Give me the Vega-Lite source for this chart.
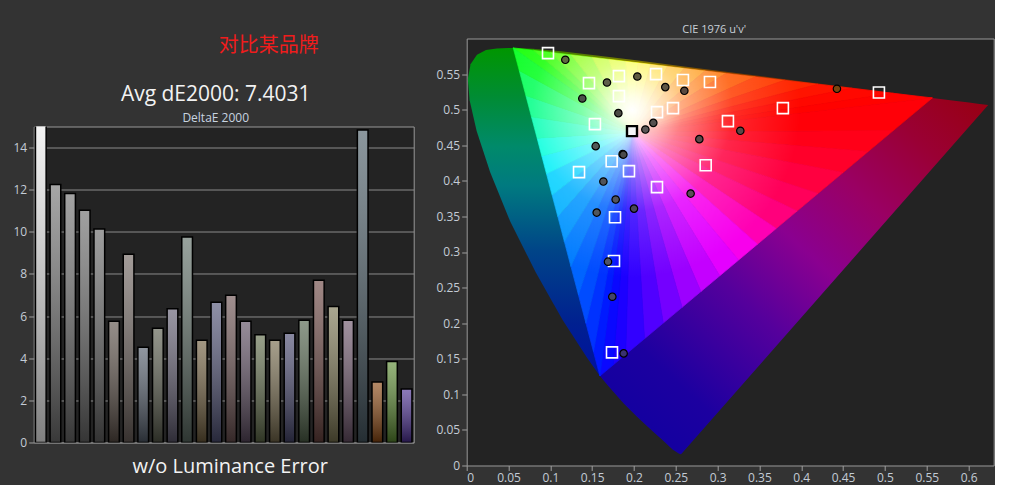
{
  "$schema": "https://vega.github.io/schema/vega-lite/v6.json",
  "background": "#333333",
  "padding": {"left": 11.7, "top": 22.5, "right": 0, "bottom": 0},
  "spacing": 20,
  "config": {
    "view": {"fill": "#232323", "stroke": "#9a9a9a", "strokeWidth": 1},
    "font": "Open Sans",
    "axis": {"labelColor": "#c4ccd6", "labelFont": "Open Sans", "labelFontSize": 12, "tickColor": "#a0a0a0", "domain": false, "tickSize": 5, "labelPadding": 2},
    "title": {"fontWeight": "normal"}
  },
  "datasets": {
    "bars": [
      {"p": 1, "de": 17.28}, {"p": 2, "de": 12.25}, {"p": 3, "de": 11.82}, {"p": 4, "de": 11.03},
      {"p": 5, "de": 10.13}, {"p": 6, "de": 5.75}, {"p": 7, "de": 8.94}, {"p": 8, "de": 4.52},
      {"p": 9, "de": 5.42}, {"p": 10, "de": 6.35}, {"p": 11, "de": 9.75}, {"p": 12, "de": 4.85},
      {"p": 13, "de": 6.66}, {"p": 14, "de": 6.99}, {"p": 15, "de": 5.75}, {"p": 16, "de": 5.12},
      {"p": 17, "de": 4.85}, {"p": 18, "de": 5.18}, {"p": 19, "de": 5.8}, {"p": 20, "de": 7.7},
      {"p": 21, "de": 6.45}, {"p": 22, "de": 5.8}, {"p": 23, "de": 14.83}, {"p": 24, "de": 2.87},
      {"p": 25, "de": 3.85}, {"p": 26, "de": 2.54}
    ],
    "locusLeft": [
      {"o": 0, "u": 0.0556, "v": 0.5868}, {"o": 1, "u": 0.0501, "v": 0.5868}, {"o": 2, "u": 0.036, "v": 0.5861},
      {"o": 3, "u": 0.0231, "v": 0.5837}, {"o": 4, "u": 0.0123, "v": 0.577}, {"o": 5, "u": 0.0046, "v": 0.5638},
      {"o": 6, "u": 0.0014, "v": 0.5432}, {"o": 7, "u": 0.0035, "v": 0.5131}, {"o": 8, "u": 0.0119, "v": 0.4699},
      {"o": 9, "u": 0.0282, "v": 0.4117}, {"o": 10, "u": 0.0521, "v": 0.3427}, {"o": 11, "u": 0.0828, "v": 0.2708},
      {"o": 12, "u": 0.1147, "v": 0.2044}, {"o": 13, "u": 0.1441, "v": 0.151}, {"o": 14, "u": 0.1593, "v": 0.1258}
    ],
    "locusBottom": [
      {"o": 0, "u": 0.1593, "v": 0.1258}, {"o": 1, "u": 0.169, "v": 0.1119}, {"o": 2, "u": 0.1877, "v": 0.0871},
      {"o": 3, "u": 0.2033, "v": 0.0688}, {"o": 4, "u": 0.2161, "v": 0.0549}, {"o": 5, "u": 0.2266, "v": 0.0437},
      {"o": 6, "u": 0.2347, "v": 0.035}, {"o": 7, "u": 0.2461, "v": 0.0226}, {"o": 8, "u": 0.2535, "v": 0.017},
      {"o": 9, "u": 0.2557, "v": 0.0159}, {"o": 10, "u": 0.2568, "v": 0.0166}, {"o": 11, "u": 0.6234, "v": 0.5065},
      {"o": 12, "u": 0.6109, "v": 0.5084}, {"o": 13, "u": 0.6005, "v": 0.5099}, {"o": 14, "u": 0.583, "v": 0.5125},
      {"o": 15, "u": 0.5566, "v": 0.5165}
    ],
    "topSliver": [
      {"o": 0, "u": 0.0556, "v": 0.5868}, {"o": 1, "u": 0.0792, "v": 0.5856}, {"o": 2, "u": 0.1127, "v": 0.5821},
      {"o": 3, "u": 0.1531, "v": 0.5766}, {"o": 4, "u": 0.2026, "v": 0.5694}, {"o": 5, "u": 0.2623, "v": 0.5604},
      {"o": 6, "u": 0.3315, "v": 0.5501}, {"o": 7, "u": 0.4035, "v": 0.5393}, {"o": 8, "u": 0.4692, "v": 0.5296},
      {"o": 9, "u": 0.5203, "v": 0.5219}, {"o": 10, "u": 0.5566, "v": 0.5165}
    ],
    "gamut": [
      {"o": 0, "u": 0.0556, "v": 0.5868}, {"o": 1, "u": 0.5566, "v": 0.5165}, {"o": 2, "u": 0.1593, "v": 0.1258}
    ],
    "fan": [
      {"t":0,"o":0,"u":0.1978,"v":0.4683},{"t":0,"o":1,"u":0.0556,"v":0.5868},{"t":0,"o":2,"u":0.08,"v":0.5834},
      {"t":1,"o":0,"u":0.1978,"v":0.4683},{"t":1,"o":1,"u":0.08,"v":0.5834},{"t":1,"o":2,"u":0.1,"v":0.5806},
      {"t":2,"o":0,"u":0.1978,"v":0.4683},{"t":2,"o":1,"u":0.1,"v":0.5806},{"t":2,"o":2,"u":0.125,"v":0.5771},
      {"t":3,"o":0,"u":0.1978,"v":0.4683},{"t":3,"o":1,"u":0.125,"v":0.5771},{"t":3,"o":2,"u":0.15,"v":0.5736},
      {"t":4,"o":0,"u":0.1978,"v":0.4683},{"t":4,"o":1,"u":0.15,"v":0.5736},{"t":4,"o":2,"u":0.17,"v":0.5708},
      {"t":5,"o":0,"u":0.1978,"v":0.4683},{"t":5,"o":1,"u":0.17,"v":0.5708},{"t":5,"o":2,"u":0.19,"v":0.5679},
      {"t":6,"o":0,"u":0.1978,"v":0.4683},{"t":6,"o":1,"u":0.19,"v":0.5679},{"t":6,"o":2,"u":0.205,"v":0.5658},
      {"t":7,"o":0,"u":0.1978,"v":0.4683},{"t":7,"o":1,"u":0.205,"v":0.5658},{"t":7,"o":2,"u":0.22,"v":0.5637},
      {"t":8,"o":0,"u":0.1978,"v":0.4683},{"t":8,"o":1,"u":0.22,"v":0.5637},{"t":8,"o":2,"u":0.24,"v":0.5609},
      {"t":9,"o":0,"u":0.1978,"v":0.4683},{"t":9,"o":1,"u":0.24,"v":0.5609},{"t":9,"o":2,"u":0.26,"v":0.5581},
      {"t":10,"o":0,"u":0.1978,"v":0.4683},{"t":10,"o":1,"u":0.26,"v":0.5581},{"t":10,"o":2,"u":0.285,"v":0.5546},
      {"t":11,"o":0,"u":0.1978,"v":0.4683},{"t":11,"o":1,"u":0.285,"v":0.5546},{"t":11,"o":2,"u":0.31,"v":0.5511},
      {"t":12,"o":0,"u":0.1978,"v":0.4683},{"t":12,"o":1,"u":0.31,"v":0.5511},{"t":12,"o":2,"u":0.345,"v":0.5462},
      {"t":13,"o":0,"u":0.1978,"v":0.4683},{"t":13,"o":1,"u":0.345,"v":0.5462},{"t":13,"o":2,"u":0.38,"v":0.5413},
      {"t":14,"o":0,"u":0.1978,"v":0.4683},{"t":14,"o":1,"u":0.38,"v":0.5413},{"t":14,"o":2,"u":0.42,"v":0.5357},
      {"t":15,"o":0,"u":0.1978,"v":0.4683},{"t":15,"o":1,"u":0.42,"v":0.5357},{"t":15,"o":2,"u":0.46,"v":0.5301},
      {"t":16,"o":0,"u":0.1978,"v":0.4683},{"t":16,"o":1,"u":0.46,"v":0.5301},{"t":16,"o":2,"u":0.51,"v":0.523},
      {"t":17,"o":0,"u":0.1978,"v":0.4683},{"t":17,"o":1,"u":0.51,"v":0.523},{"t":17,"o":2,"u":0.5566,"v":0.5165},
      {"t":18,"o":0,"u":0.1978,"v":0.4683},{"t":18,"o":1,"u":0.5566,"v":0.5165},{"t":18,"o":2,"u":0.51,"v":0.4707},
      {"t":19,"o":0,"u":0.1978,"v":0.4683},{"t":19,"o":1,"u":0.51,"v":0.4707},{"t":19,"o":2,"u":0.48,"v":0.4412},
      {"t":20,"o":0,"u":0.1978,"v":0.4683},{"t":20,"o":1,"u":0.48,"v":0.4412},{"t":20,"o":2,"u":0.45,"v":0.4117},
      {"t":21,"o":0,"u":0.1978,"v":0.4683},{"t":21,"o":1,"u":0.45,"v":0.4117},{"t":21,"o":2,"u":0.42,"v":0.3822},
      {"t":22,"o":0,"u":0.1978,"v":0.4683},{"t":22,"o":1,"u":0.42,"v":0.3822},{"t":22,"o":2,"u":0.395,"v":0.3576},
      {"t":23,"o":0,"u":0.1978,"v":0.4683},{"t":23,"o":1,"u":0.395,"v":0.3576},{"t":23,"o":2,"u":0.37,"v":0.333},
      {"t":24,"o":0,"u":0.1978,"v":0.4683},{"t":24,"o":1,"u":0.37,"v":0.333},{"t":24,"o":2,"u":0.3475,"v":0.3109},
      {"t":25,"o":0,"u":0.1978,"v":0.4683},{"t":25,"o":1,"u":0.3475,"v":0.3109},{"t":25,"o":2,"u":0.325,"v":0.2887},
      {"t":26,"o":0,"u":0.1978,"v":0.4683},{"t":26,"o":1,"u":0.325,"v":0.2887},{"t":26,"o":2,"u":0.3025,"v":0.2666},
      {"t":27,"o":0,"u":0.1978,"v":0.4683},{"t":27,"o":1,"u":0.3025,"v":0.2666},{"t":27,"o":2,"u":0.28,"v":0.2445},
      {"t":28,"o":0,"u":0.1978,"v":0.4683},{"t":28,"o":1,"u":0.28,"v":0.2445},{"t":28,"o":2,"u":0.2575,"v":0.2223},
      {"t":29,"o":0,"u":0.1978,"v":0.4683},{"t":29,"o":1,"u":0.2575,"v":0.2223},{"t":29,"o":2,"u":0.235,"v":0.2002},
      {"t":30,"o":0,"u":0.1978,"v":0.4683},{"t":30,"o":1,"u":0.235,"v":0.2002},{"t":30,"o":2,"u":0.2125,"v":0.1781},
      {"t":31,"o":0,"u":0.1978,"v":0.4683},{"t":31,"o":1,"u":0.2125,"v":0.1781},{"t":31,"o":2,"u":0.19,"v":0.156},
      {"t":32,"o":0,"u":0.1978,"v":0.4683},{"t":32,"o":1,"u":0.19,"v":0.156},{"t":32,"o":2,"u":0.175,"v":0.1412},
      {"t":33,"o":0,"u":0.1978,"v":0.4683},{"t":33,"o":1,"u":0.175,"v":0.1412},{"t":33,"o":2,"u":0.1593,"v":0.1258},
      {"t":34,"o":0,"u":0.1978,"v":0.4683},{"t":34,"o":1,"u":0.1593,"v":0.1258},{"t":34,"o":2,"u":0.1516,"v":0.16},
      {"t":35,"o":0,"u":0.1978,"v":0.4683},{"t":35,"o":1,"u":0.1516,"v":0.16},{"t":35,"o":2,"u":0.1426,"v":0.2},
      {"t":36,"o":0,"u":0.1978,"v":0.4683},{"t":36,"o":1,"u":0.1426,"v":0.2},{"t":36,"o":2,"u":0.1336,"v":0.24},
      {"t":37,"o":0,"u":0.1978,"v":0.4683},{"t":37,"o":1,"u":0.1336,"v":0.24},{"t":37,"o":2,"u":0.1246,"v":0.28},
      {"t":38,"o":0,"u":0.1978,"v":0.4683},{"t":38,"o":1,"u":0.1246,"v":0.28},{"t":38,"o":2,"u":0.1167,"v":0.315},
      {"t":39,"o":0,"u":0.1978,"v":0.4683},{"t":39,"o":1,"u":0.1167,"v":0.315},{"t":39,"o":2,"u":0.1089,"v":0.35},
      {"t":40,"o":0,"u":0.1978,"v":0.4683},{"t":40,"o":1,"u":0.1089,"v":0.35},{"t":40,"o":2,"u":0.1021,"v":0.38},
      {"t":41,"o":0,"u":0.1978,"v":0.4683},{"t":41,"o":1,"u":0.1021,"v":0.38},{"t":41,"o":2,"u":0.0954,"v":0.41},
      {"t":42,"o":0,"u":0.1978,"v":0.4683},{"t":42,"o":1,"u":0.0954,"v":0.41},{"t":42,"o":2,"u":0.0898,"v":0.435},
      {"t":43,"o":0,"u":0.1978,"v":0.4683},{"t":43,"o":1,"u":0.0898,"v":0.435},{"t":43,"o":2,"u":0.0842,"v":0.46},
      {"t":44,"o":0,"u":0.1978,"v":0.4683},{"t":44,"o":1,"u":0.0842,"v":0.46},{"t":44,"o":2,"u":0.0774,"v":0.49},
      {"t":45,"o":0,"u":0.1978,"v":0.4683},{"t":45,"o":1,"u":0.0774,"v":0.49},{"t":45,"o":2,"u":0.0707,"v":0.52},
      {"t":46,"o":0,"u":0.1978,"v":0.4683},{"t":46,"o":1,"u":0.0707,"v":0.52},{"t":46,"o":2,"u":0.0628,"v":0.555},
      {"t":47,"o":0,"u":0.1978,"v":0.4683},{"t":47,"o":1,"u":0.0628,"v":0.555},{"t":47,"o":2,"u":0.0556,"v":0.5868}
    ],
    "targets": [
      {"u": 0.0972, "v": 0.5795}, {"u": 0.1462, "v": 0.5373}, {"u": 0.182, "v": 0.5472}, {"u": 0.182, "v": 0.5191},
      {"u": 0.2263, "v": 0.55}, {"u": 0.2585, "v": 0.5416}, {"u": 0.2908, "v": 0.5388}, {"u": 0.2275, "v": 0.4966},
      {"u": 0.2466, "v": 0.5022}, {"u": 0.1533, "v": 0.4797}, {"u": 0.1733, "v": 0.4276}, {"u": 0.1343, "v": 0.4122},
      {"u": 0.194, "v": 0.4136}, {"u": 0.2275, "v": 0.3911}, {"u": 0.1773, "v": 0.3489}, {"u": 0.1761, "v": 0.2874},
      {"u": 0.3123, "v": 0.4839}, {"u": 0.2857, "v": 0.422}, {"u": 0.378, "v": 0.5022}, {"u": 0.4928, "v": 0.5241},
      {"u": 0.1737, "v": 0.159}
    ],
    "whitept": [{"u": 0.1976, "v": 0.4698}],
    "measured": [
      {"m": 1, "u": 0.1179, "v": 0.5701}, {"m": 2, "u": 0.1677, "v": 0.5382}, {"m": 3, "u": 0.204, "v": 0.5466},
      {"m": 4, "u": 0.1382, "v": 0.5157}, {"m": 5, "u": 0.2374, "v": 0.5317}, {"m": 6, "u": 0.2602, "v": 0.5265},
      {"m": 7, "u": 0.1813, "v": 0.4951}, {"m": 8, "u": 0.2231, "v": 0.4815}, {"m": 9, "u": 0.2136, "v": 0.4721},
      {"m": 10, "u": 0.2781, "v": 0.4586}, {"m": 11, "u": 0.1542, "v": 0.4487}, {"m": 12, "u": 0.1864, "v": 0.4375},
      {"m": 13, "u": 0.1634, "v": 0.399}, {"m": 14, "u": 0.2677, "v": 0.3821}, {"m": 15, "u": 0.1781, "v": 0.3737},
      {"m": 16, "u": 0.2, "v": 0.361}, {"m": 17, "u": 0.1554, "v": 0.3554}, {"m": 18, "u": 0.1689, "v": 0.2864},
      {"m": 19, "u": 0.1741, "v": 0.2372}, {"m": 20, "u": 0.1876, "v": 0.1575}, {"m": 21, "u": 0.3271, "v": 0.4703},
      {"m": 22, "u": 0.4426, "v": 0.5293}, {"m": 23, "u": 0.1873, "v": 0.4369}
    ]
  },
  "hconcat": [
    {
      "spacing": 26,
      "vconcat": [
        {
          "width": 380,
          "height": 15,
          "view": {"stroke": null, "fill": null},
          "data": {"values": [{"label": "对比某品牌"}]},
          "mark": {"type": "text", "font": "Noto Sans CJK SC", "fontSize": 20, "color": "#f01c1c", "dx": 45, "baseline": "middle", "align": "center"},
          "encoding": {"text": {"field": "label", "type": "nominal"}}
        },
        {
          "width": 380,
          "height": 316,
          "title": {"text": "Avg dE2000: 7.4031", "subtitle": "DeltaE 2000", "fontSize": 21, "color": "#f2f2f2", "font": "Open Sans", "subtitleFontSize": 12, "subtitleColor": "#c8d4e0", "subtitleFont": "Open Sans", "subtitlePadding": 8, "offset": 3, "dx": -8},
          "data": {"name": "bars"},
          "encoding": {
            "x": {"field": "p", "type": "ordinal", "scale": {"paddingInner": 0.27, "paddingOuter": 0.12},
                  "axis": {"labels": false, "ticks": false, "domain": false, "title": "w/o Luminance Error", "titleColor": "#f2f2f2", "titleFontSize": 20, "titleFontWeight": "normal", "titlePadding": 14, "titleFont": "Open Sans", "titleX": 196}},
            "y": {"field": "de", "type": "quantitative", "scale": {"domain": [0, 15], "nice": false},
                  "axis": {"values": [0, 2, 4, 6, 8, 10, 12, 14], "grid": true, "gridColor": "#8c8c8c", "title": null}}
          },
          "layer": [
            {"mark": {"type": "bar", "clip": true},
             "encoding": {"color": {"field": "p", "type": "ordinal", "legend": null,
               "scale": {"domain": [1,2,3,4,5,6,7,8,9,10,11,12,13,14,15,16,17,18,19,20,21,22,23,24,25,26],
                         "range": ["#ffffff","#727272","#6e6e6e","#6a6a6a","#666666","#5a4e46","#6e635e","#525c6a","#56594a","#5e5a6e","#5c6c64","#6e5c3c","#4e5074","#6a5050","#5a4a5e","#5e6a48","#74684a","#46466c","#4e6048","#6a4440","#7a7450","#6a5268","#4a5c66","#8a4610","#5a8a30","#4a2e92"]}}}},
            {"mark": {"type": "bar", "clip": true, "stroke": "#000000", "strokeWidth": 1.5,
               "fill": {"gradient": "linear", "x1": 0, "y1": 0, "x2": 0, "y2": 1,
                        "stops": [{"offset": 0, "color": "rgba(255,255,255,0.36)"}, {"offset": 1, "color": "rgba(0,0,0,0.5)"}]}}}
          ]
        }
      ]
    },
    {
      "width": 527,
      "height": 427,
      "title": {"text": "CIE 1976 u'v'", "fontSize": 11, "color": "#c8d0d8", "font": "Open Sans", "offset": 4, "dx": -16},
      "resolve": {"scale": {"fill": "independent", "stroke": "independent", "color": "independent"}},
      "encoding": {
        "x": {"field": "u", "type": "quantitative", "scale": {"domain": [0, 0.63], "nice": false, "zero": false},
              "axis": {"values": [0, 0.05, 0.1, 0.15, 0.2, 0.25, 0.3, 0.35, 0.4, 0.45, 0.5, 0.55, 0.6], "format": "~g", "title": null, "grid": false}},
        "y": {"field": "v", "type": "quantitative", "scale": {"domain": [0, 0.6], "nice": false, "zero": false},
              "axis": {"values": [0, 0.05, 0.1, 0.15, 0.2, 0.25, 0.3, 0.35, 0.4, 0.45, 0.5, 0.55], "format": "~g", "title": null, "grid": false}}
      },
      "layer": [
        {"data": {"name": "locusLeft"},
         "mark": {"type": "line", "interpolate": "linear-closed", "strokeWidth": 0,
           "fill": {"gradient": "linear", "x1": 0, "y1": 0, "x2": 0, "y2": 1,
                    "stops": [{"offset": 0, "color": "#009600"}, {"offset": 0.15, "color": "#008c34"}, {"offset": 0.3, "color": "#008a6a"},
                              {"offset": 0.42, "color": "#007a80"}, {"offset": 0.62, "color": "#004488"}, {"offset": 0.84, "color": "#002090"}, {"offset": 1, "color": "#0010a0"}]}},
         "encoding": {"order": {"field": "o", "type": "quantitative"}}},
        {"data": {"name": "locusBottom"},
         "mark": {"type": "line", "interpolate": "linear-closed", "strokeWidth": 0,
           "fill": {"gradient": "linear", "x1": 0, "y1": 1, "x2": 1, "y2": 0,
                    "stops": [{"offset": 0, "color": "#0c00a0"}, {"offset": 0.2, "color": "#1c00a0"}, {"offset": 0.4, "color": "#55009c"},
                              {"offset": 0.55, "color": "#8a0090"}, {"offset": 0.7, "color": "#9a0064"}, {"offset": 0.85, "color": "#9a0034"}, {"offset": 1, "color": "#980010"}]}},
         "encoding": {"order": {"field": "o", "type": "quantitative"}}},
        {"data": {"name": "topSliver"},
         "mark": {"type": "line", "interpolate": "linear-closed", "strokeWidth": 0,
           "fill": {"gradient": "linear", "x1": 0, "y1": 0, "x2": 1, "y2": 0,
                    "stops": [{"offset": 0, "color": "#208000"}, {"offset": 0.3, "color": "#807a00"}, {"offset": 0.5, "color": "#804000"}, {"offset": 1, "color": "#800000"}]}},
         "encoding": {"order": {"field": "o", "type": "quantitative"}}},
        {"data": {"name": "fan"},
         "mark": {"type": "line", "interpolate": "linear-closed", "strokeWidth": 0.8},
         "encoding": {
           "order": {"field": "o", "type": "quantitative"},
           "detail": {"field": "t", "type": "nominal"},
           "fill": {"field": "t", "type": "nominal", "legend": null,
             "scale": {"domain": [0,1,2,3,4,5,6,7,8,9,10,11,12,13,14,15,16,17,18,19,20,21,22,23,24,25,26,27,28,29,30,31,32,33,34,35,36,37,38,39,40,41,42,43,44,45,46,47],
                       "range": ["#10ff00","#30ff00","#54ff00","#84ff00","#b4ff00","#daff00","#f6ff00","#fff000","#ffd000","#ffb000","#ff9000","#ff7200","#ff5600","#ff3c00","#ff2600","#ff1400","#ff0800","#ff0200","#ff0008","#ff0018","#ff002a","#ff0040","#ff005a","#ff007c","#ff00b4","#f800ec","#e400ff","#c400ff","#9c00ff","#7400ff","#5000ff","#3200ff","#1c00ff","#0a08ff","#001aff","#0032ff","#004cff","#0064ff","#007cff","#0094ff","#00b0ff","#00d0ff","#00f0f8","#00ffdc","#00ffb2","#00ff86","#00ff54","#00ff1c"]}},
           "stroke": {"field": "t", "type": "nominal", "legend": null,
             "scale": {"domain": [0,1,2,3,4,5,6,7,8,9,10,11,12,13,14,15,16,17,18,19,20,21,22,23,24,25,26,27,28,29,30,31,32,33,34,35,36,37,38,39,40,41,42,43,44,45,46,47],
                       "range": ["#10ff00","#30ff00","#54ff00","#84ff00","#b4ff00","#daff00","#f6ff00","#fff000","#ffd000","#ffb000","#ff9000","#ff7200","#ff5600","#ff3c00","#ff2600","#ff1400","#ff0800","#ff0200","#ff0008","#ff0018","#ff002a","#ff0040","#ff005a","#ff007c","#ff00b4","#f800ec","#e400ff","#c400ff","#9c00ff","#7400ff","#5000ff","#3200ff","#1c00ff","#0a08ff","#001aff","#0032ff","#004cff","#0064ff","#007cff","#0094ff","#00b0ff","#00d0ff","#00f0f8","#00ffdc","#00ffb2","#00ff86","#00ff54","#00ff1c"]}}
         }},
        {"data": {"name": "gamut"},
         "mark": {"type": "line", "interpolate": "linear-closed", "strokeWidth": 0,
           "fill": {"gradient": "radial", "x1": 0.284, "y1": 0.257, "r1": 0, "x2": 0.284, "y2": 0.257, "r2": 0.4,
                    "stops": [{"offset": 0, "color": "rgba(255,255,255,1)"}, {"offset": 0.08, "color": "rgba(255,255,255,0.9)"},
                              {"offset": 0.3, "color": "rgba(255,255,255,0.5)"}, {"offset": 0.6, "color": "rgba(255,255,255,0.15)"}, {"offset": 1, "color": "rgba(255,255,255,0)"}]}},
         "encoding": {"order": {"field": "o", "type": "quantitative"}}},
        {"data": {"name": "targets"},
         "mark": {"type": "point", "shape": "square", "filled": false, "size": 121, "stroke": "#ffffff", "strokeWidth": 1.6, "opacity": 1}},
        {"data": {"name": "whitept"},
         "mark": {"type": "point", "shape": "square", "filled": true, "size": 100, "fill": "#f4f4f8", "stroke": "#000000", "strokeWidth": 2.4, "opacity": 1}},
        {"data": {"name": "measured"},
         "mark": {"type": "point", "shape": "circle", "filled": true, "size": 55, "stroke": "#000000", "strokeWidth": 1.2, "opacity": 1},
         "encoding": {"color": {"field": "m", "type": "nominal", "legend": null,
           "scale": {"domain": [1,2,3,4,5,6,7,8,9,10,11,12,13,14,15,16,17,18,19,20,21,22,23],
                     "range": ["#5e6a40","#5e5e4a","#5e5a40","#4a5048","#5e5644","#5a4a40","#4a4a44","#555050","#5a5656","#5a4a4a","#525a58","#4a4a4a","#50545c","#5a4e5a","#54545c","#4a4658","#50565e","#505468","#45456a","#3a3270","#5a4848","#7a4610","#4a4a4a"]}}}},
        {"mark": {"type": "rect", "color": "#2c2c2c"},
         "encoding": {"x": {"datum": 0.318}, "x2": {"datum": 0.626}, "y": {"datum": 0.0075}, "y2": {"datum": 0.048}}},
        {"mark": {"type": "text", "text": "RGB Triplet: 235, 235, 235", "align": "right", "baseline": "alphabetic", "fontSize": 20, "font": "Open Sans", "color": "#eef2f6"},
         "encoding": {"x": {"datum": 0.6195}, "y": {"datum": 0.0177}}}
      ]
    }
  ]
}
